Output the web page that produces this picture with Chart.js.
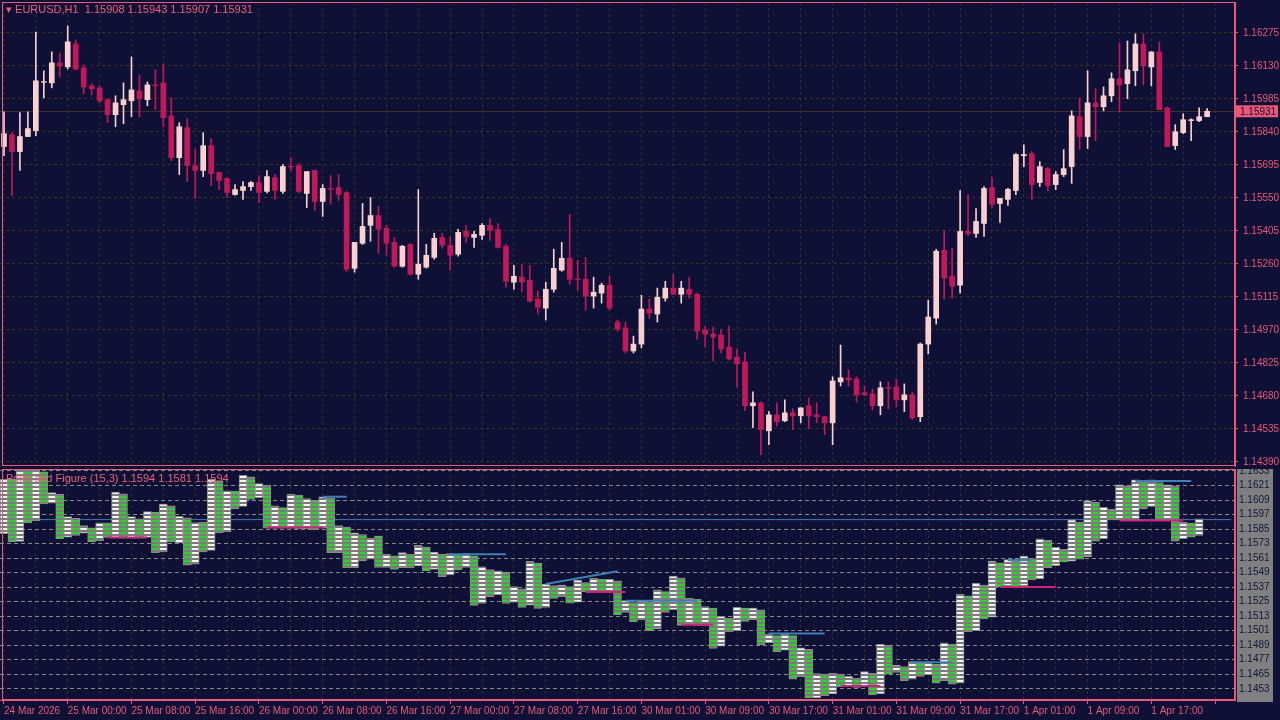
<!DOCTYPE html>
<html>
<head>
<meta charset="utf-8">
<script src="https://cdn.jsdelivr.net/npm/chart.js@4/dist/chart.umd.min.js"></script>
<style>
  html { overflow:hidden; }
  body { margin:0; background:#0e1035; width:1400px; height:720px; overflow:hidden; position:relative; font-family:"Liberation Sans", sans-serif; }
  canvas { position:absolute; left:0; }
  .hdr { position:absolute; color:#f0607a; font-size:11px; white-space:pre; z-index:5; }
</style>
</head>
<body>
<canvas id="top" width="1295" height="485"></canvas>
<canvas id="bot" width="1328" height="262"></canvas>
<div class="hdr" style="left:6px;top:3px;">&#9662; EURUSD,H1  1.15908 1.15943 1.15907 1.15931</div>
<div class="hdr" style="left:6px;top:472px;">Point and Figure (15,3) 1.1594 1.1581 1.1594</div>
<script>
// candle data EURUSD H1
var opens = [1.15776,1.15828,1.15754,1.15820,1.15846,1.16060,1.16056,1.16144,1.16126,1.16227,1.16122,1.16043,1.16034,1.15982,1.15916,1.15960,1.15977,1.16021,1.15982,1.16047,
1.16056,1.15911,1.15727,1.15859,1.15692,1.15671,1.15780,1.15662,1.15636,1.15565,1.15583,1.15600,1.15618,1.15579,1.15640,1.15579,1.15688,1.15692,1.15570,1.15671,
1.15535,1.15592,1.15596,1.15574,1.15241,1.15351,1.15430,1.15473,1.15417,1.15355,1.15250,1.15346,1.15215,1.15246,1.15289,1.15377,1.15342,1.15303,1.15403,1.15377,
1.15386,1.15430,1.15412,1.15338,1.15180,1.15202,1.15189,1.15106,1.15066,1.15149,1.15233,1.15285,1.15193,1.15193,1.15119,1.15132,1.15167,1.15005,1.14979,1.14878,
1.14908,1.15062,1.15040,1.15110,1.15154,1.15127,1.15149,1.15127,1.14970,1.14952,1.14948,1.14895,1.14851,1.14830,1.14637,1.14650,1.14527,1.14597,1.14571,1.14606,
1.14593,1.14637,1.14597,1.14589,1.14562,1.14742,1.14760,1.14755,1.14694,1.14689,1.14637,1.14716,1.14720,1.14663,1.14685,1.14589,1.14908,1.15022,1.15320,1.15206,
1.15167,1.15403,1.15394,1.15438,1.15596,1.15526,1.15544,1.15583,1.15736,1.15745,1.15618,1.15679,1.15609,1.15653,1.15688,1.15907,1.15820,1.15968,1.15951,1.15999,
1.16074,1.16052,1.16109,1.16227,1.16126,1.16192,1.15946,1.15780,1.15837,1.15890,1.15890,1.15907];
var highs = [1.15929,1.15837,1.15925,1.15929,1.16279,1.16109,1.16192,1.16187,1.16306,1.16244,1.16135,1.16052,1.16043,1.15985,1.15999,1.16056,1.16170,1.16091,1.16060,1.16113,
1.16139,1.15990,1.15881,1.15898,1.15763,1.15837,1.15811,1.15665,1.15639,1.15609,1.15622,1.15622,1.15649,1.15671,1.15653,1.15697,1.15727,1.15701,1.15666,1.15672,
1.15609,1.15649,1.15653,1.15579,1.15355,1.15526,1.15552,1.15513,1.15430,1.15377,1.15342,1.15350,1.15587,1.15346,1.15395,1.15395,1.15381,1.15412,1.15430,1.15403,
1.15438,1.15460,1.15438,1.15346,1.15254,1.15259,1.15254,1.15141,1.15180,1.15325,1.15355,1.15478,1.15276,1.15289,1.15202,1.15176,1.15206,1.15014,1.15005,1.14943,
1.15123,1.15106,1.15154,1.15184,1.15215,1.15184,1.15202,1.15132,1.14987,1.14983,1.14974,1.14987,1.14887,1.14873,1.14698,1.14654,1.14611,1.14650,1.14663,1.14624,
1.14628,1.14672,1.14650,1.14592,1.14764,1.14904,1.14795,1.14764,1.14724,1.14711,1.14742,1.14742,1.14755,1.14733,1.14698,1.14913,1.15101,1.15325,1.15408,1.15329,
1.15583,1.15565,1.15504,1.15600,1.15640,1.15548,1.15592,1.15745,1.15784,1.15754,1.15710,1.15684,1.15666,1.15763,1.15933,1.15990,1.16109,1.16030,1.16038,1.16100,
1.16231,1.16240,1.16271,1.16271,1.16192,1.16236,1.15950,1.15872,1.15920,1.15898,1.15946,1.15943];
var lows = [1.15736,1.15561,1.15671,1.15820,1.15824,1.15990,1.16034,1.16082,1.16117,1.16112,1.16008,1.16003,1.15968,1.15881,1.15863,1.15876,1.15907,1.15907,1.15955,1.15938,
1.15863,1.15714,1.15653,1.15622,1.15548,1.15644,1.15605,1.15587,1.15552,1.15562,1.15544,1.15583,1.15530,1.15572,1.15544,1.15570,1.15671,1.15572,1.15508,1.15495,
1.15469,1.15522,1.15539,1.15228,1.15224,1.15346,1.15360,1.15307,1.15298,1.15246,1.15246,1.15211,1.15193,1.15242,1.15281,1.15329,1.15233,1.15294,1.15355,1.15333,
1.15368,1.15364,1.15329,1.15158,1.15149,1.15136,1.15093,1.15040,1.15014,1.15136,1.15228,1.15171,1.15145,1.15057,1.15066,1.15088,1.15057,1.14965,1.14869,1.14869,
1.14891,1.15022,1.15005,1.15097,1.15127,1.15088,1.15110,1.14930,1.14895,1.14834,1.14869,1.14838,1.14720,1.14615,1.14541,1.14422,1.14466,1.14549,1.14567,1.14532,
1.14562,1.14536,1.14562,1.14510,1.14466,1.14724,1.14724,1.14654,1.14681,1.14619,1.14597,1.14624,1.14632,1.14611,1.14576,1.14567,1.14865,1.14996,1.15106,1.15110,
1.15132,1.15386,1.15377,1.15381,1.15508,1.15443,1.15517,1.15565,1.15688,1.15544,1.15600,1.15583,1.15587,1.15644,1.15614,1.15763,1.15767,1.15802,1.15933,1.15973,
1.15929,1.15986,1.16043,1.16047,1.16043,1.15938,1.15776,1.15763,1.15833,1.15802,1.15885,1.15907];
var closes = [1.15833,1.15754,1.15820,1.15855,1.16065,1.16062,1.16144,1.16130,1.16236,1.16117,1.16038,1.16030,1.15977,1.15916,1.15968,1.15982,1.16025,1.15986,1.16047,1.16043,
1.15903,1.15727,1.15863,1.15692,1.15671,1.15780,1.15657,1.15627,1.15574,1.15587,1.15600,1.15618,1.15574,1.15644,1.15583,1.15688,1.15686,1.15579,1.15666,1.15535,
1.15592,1.15588,1.15565,1.15237,1.15355,1.15425,1.15473,1.15412,1.15351,1.15250,1.15338,1.15215,1.15259,1.15298,1.15373,1.15342,1.15298,1.15399,1.15381,1.15390,
1.15430,1.15408,1.15333,1.15184,1.15206,1.15180,1.15097,1.15070,1.15149,1.15241,1.15285,1.15193,1.15190,1.15119,1.15136,1.15167,1.15066,1.14974,1.14878,1.14908,
1.15062,1.15044,1.15114,1.15154,1.15127,1.15154,1.15127,1.14965,1.14952,1.14939,1.14887,1.14843,1.14821,1.14637,1.14650,1.14532,1.14597,1.14567,1.14606,1.14593,
1.14628,1.14593,1.14589,1.14562,1.14746,1.14760,1.14751,1.14685,1.14685,1.14637,1.14716,1.14714,1.14663,1.14685,1.14584,1.14908,1.15027,1.15316,1.15198,1.15162,
1.15403,1.15394,1.15447,1.15592,1.15522,1.15548,1.15588,1.15741,1.15741,1.15609,1.15688,1.15605,1.15653,1.15679,1.15911,1.15820,1.15968,1.15951,1.15999,1.16074,
1.16047,1.16113,1.16227,1.16130,1.16192,1.15938,1.15776,1.15841,1.15894,1.15894,1.15907,1.15931];

// point & figure columns (top / bottom of each column)
var pfTop = [1.16262,1.16262,1.16338,1.16338,1.16338,1.16322,1.16152,1.16139,1.15953,1.15939,1.15879,1.15860,1.15901,1.15901,1.16155,1.16141,1.15953,1.15934,1.15994,1.15988,
1.16057,1.16043,1.15956,1.15942,1.15904,1.15907,1.16262,1.16248,1.16166,1.16163,1.16294,1.16281,1.16226,1.16213,1.16043,1.16027,1.16139,1.16131,1.16101,1.16087,
1.16117,1.16103,1.15879,1.15866,1.15819,1.15805,1.15775,1.15792,1.15642,1.15628,1.15655,1.15642,1.15715,1.15701,1.15660,1.15641,1.15647,1.15639,1.15647,1.15628,
1.15538,1.15516,1.15505,1.15494,1.15374,1.15357,1.15584,1.15568,1.15396,1.15382,1.15387,1.15374,1.15428,1.15407,1.15442,1.15434,1.15434,1.15423,1.15259,1.15243,
1.15259,1.15248,1.15347,1.15333,1.15461,1.15447,1.15278,1.15270,1.15210,1.15196,1.15128,1.15112,1.15205,1.15196,1.15196,1.15183,1.14983,1.14970,1.14983,1.14970,
1.14869,1.14855,1.14656,1.14651,1.14657,1.14651,1.14632,1.14618,1.14673,1.14657,1.14897,1.14889,1.14725,1.14714,1.14755,1.14741,1.14752,1.14733,1.14910,1.14897,
1.15312,1.15298,1.15402,1.15388,1.15585,1.15571,1.15598,1.15588,1.15626,1.15607,1.15770,1.15757,1.15702,1.15683,1.15926,1.15907,1.16084,1.16071,1.16030,1.16016,
1.16215,1.16207,1.16256,1.16240,1.16256,1.16235,1.16215,1.16207,1.15907,1.15899,1.15934];
var pfBot = [1.15811,1.15743,1.15748,1.15901,1.15920,1.16057,1.16065,1.15770,1.15784,1.15797,1.15816,1.15743,1.15754,1.15781,1.15781,1.15775,1.15775,1.15775,1.15781,1.15655,
1.15661,1.15743,1.15737,1.15551,1.15560,1.15661,1.15674,1.15819,1.15827,1.16016,1.16038,1.16095,1.16109,1.15857,1.15857,1.15857,1.15857,1.15852,1.15852,1.15844,
1.15857,1.15655,1.15655,1.15530,1.15530,1.15587,1.15601,1.15532,1.15532,1.15516,1.15530,1.15529,1.15546,1.15505,1.15516,1.15456,1.15472,1.15513,1.15532,1.15218,
1.15235,1.15292,1.15306,1.15235,1.15245,1.15202,1.15221,1.15194,1.15202,1.15276,1.15292,1.15237,1.15245,1.15333,1.15325,1.15325,1.15325,1.15142,1.15161,1.15084,
1.15101,1.15011,1.15024,1.15161,1.15183,1.15054,1.15068,1.15054,1.15054,1.14863,1.14882,1.15000,1.15011,1.15087,1.15101,1.14893,1.14910,1.14836,1.14850,1.14609,
1.14631,1.14454,1.14454,1.14474,1.14487,1.14547,1.14547,1.14542,1.14547,1.14482,1.14487,1.14651,1.14665,1.14597,1.14610,1.14632,1.14646,1.14577,1.14597,1.14569,
1.14577,1.15001,1.15011,1.15107,1.15121,1.15374,1.15383,1.15374,1.15383,1.15429,1.15437,1.15530,1.15547,1.15579,1.15585,1.15601,1.15620,1.15749,1.15770,1.15926,
1.15926,1.15921,1.15926,1.16016,1.16038,1.15921,1.15926,1.15749,1.15770,1.15784,1.15797];

// support / resistance segments in the P&F pane: [startIndex, endIndex, level]
var blueSegs = [[40,43,1.16117],[56,63,1.15642],[78,87,1.15257],[96,103,1.14986],[114,119,1.14749],[126,129,1.15593],[142,149,1.16248]];
var pinkSegs = [[13,18,1.15781],[33,40,1.15863],[73,78,1.15330],[85,89,1.15060],[105,110,1.14552],[125,132,1.15371],[140,148,1.15920]];
var riseSeg = [[68,1.15396],[77,1.15502]];
var pfMidLine = 1.15928;

var timeLabels = ["24 Mar 2026","25 Mar 00:00","25 Mar 08:00","25 Mar 16:00","26 Mar 00:00","26 Mar 08:00","26 Mar 16:00","27 Mar 00:00","27 Mar 08:00","27 Mar 16:00",
"30 Mar 01:00","30 Mar 09:00","30 Mar 17:00","31 Mar 01:00","31 Mar 09:00","31 Mar 17:00","1 Apr 01:00","1 Apr 09:00","1 Apr 17:00"];
var priceTicks = [1.16275,1.16130,1.15985,1.15840,1.15695,1.15550,1.15405,1.15260,1.15115,1.14970,1.14825,1.14680,1.14535,1.14390];
var pfTicks = [1.1633,1.1627,1.1621,1.1615,1.1609,1.1603,1.1597,1.1591,1.1585,1.1579,1.1573,1.1567,1.1561,1.1555,1.1549,1.1543,1.1537,1.1531,1.1525,1.1519,1.1513,1.1507,1.1501,1.1495,1.1489,1.1483,1.1477,1.1471,1.1465,1.1459,1.1453,1.1447];

var BG = '#0e1035', PINK = '#ec5878', BULL = '#f9d0d0', BEAR = '#c0185a';
var FONT = 'Liberation Sans';
var n = closes.length, SLOTS = 155;
var labels = [];
for (var i = 0; i < SLOTS; i++) labels.push(i % 8 == 0 ? timeLabels[i / 8] || '' : '');

var frame = {
  id: 'frame',
  afterDraw: function(c) {
    var a = c.chartArea, ctx = c.ctx;
    ctx.save(); ctx.strokeStyle = PINK; ctx.lineWidth = 1;
    ctx.strokeRect(2.5, Math.round(a.top) + 0.5, Math.round(a.right) - 3, Math.round(a.bottom - a.top) - 1);
    ctx.restore();
  }
};

// build a chart so that its plot area lands on x 0..right, y y0..y1 of the page
function makeChart(id, cfg, right, y0, y1) {
  var cv = document.getElementById(id), chart;
  for (var k = 0; k < 4; k++) {
    chart = new Chart(cv, cfg);
    var a = chart.chartArea;
    var dw = Math.round(right - a.right), dh = Math.round((y1 - y0) - (a.bottom - a.top));
    if (dw == 0 && dh == 0 || k == 3) break;
    chart.destroy();
    cv.width = cv.width + dw; cv.height = cv.height + dh;
    cv.style.width = cv.width + 'px'; cv.style.height = cv.height + 'px';
  }
  cv.style.top = (y0 - chart.chartArea.top) + 'px';
  return chart;
}

// ---- main candle pane ----
var lastLine = {
  id: 'lastLine',
  beforeDatasetsDraw: function(c) {
    var y = Math.round(c.scales.y.getPixelForValue(closes[n - 1])) + 0.5, ctx = c.ctx;
    ctx.save(); ctx.strokeStyle = '#3a3028'; ctx.beginPath(); ctx.moveTo(c.chartArea.left, y); ctx.lineTo(c.chartArea.right, y); ctx.stroke(); ctx.restore();
  },
  afterDraw: function(c) {
    var y = c.scales.y.getPixelForValue(closes[n - 1]), ctx = c.ctx;
    ctx.save(); ctx.fillStyle = PINK; ctx.fillRect(c.chartArea.right + 1, y - 6, 42, 12);
    ctx.fillStyle = BG; ctx.font = '10px "' + FONT + '"'; ctx.textBaseline = 'middle';
    ctx.fillText(closes[n - 1].toFixed(5), c.chartArea.right + 5, y + 0.5); ctx.restore();
  }
};

var topChart = makeChart('top', {
  type: 'bar',
  data: {
    labels: labels,
    datasets: [
      { data: highs.map(function(h, i) { return [lows[i], h]; }),
        backgroundColor: closes.map(function(c, i) { return c >= opens[i] ? BULL : BEAR; }),
        barThickness: 1, grouped: false, order: 2 },
      { data: opens.map(function(o, i) { return Math.abs(closes[i] - o) < 0.00003 ? [o - 0.000015, o + 0.000015] : [o, closes[i]]; }),
        backgroundColor: closes.map(function(c, i) { return c >= opens[i] ? BULL : BEAR; }),
        barThickness: 5, grouped: false, order: 1 }
    ]
  },
  options: {
    responsive: false, maintainAspectRatio: false, animation: false,
    layout: { padding: 0 },
    plugins: { legend: { display: false }, tooltip: { enabled: false } },
    scales: {
      x: { grid: { color: function(ctx) { return ctx.index % 4 == 0 ? '#302e2c' : 'rgba(0,0,0,0)'; }, offset: false, drawTicks: false },
           ticks: { display: false, autoSkip: false }, border: { display: false, dash: [3, 3] },
           afterFit: function(s) { s.height = 0; } },
      y: { position: 'right', min: 1.143724, max: 1.164112,
           afterBuildTicks: function(s) { s.ticks = priceTicks.map(function(v) { return { value: v }; }); },
           ticks: { color: PINK, font: { size: 10, family: FONT }, padding: 5, callback: function(v) { return v.toFixed(5); } },
           grid: { color: '#3b3418', drawTicks: true, tickLength: 3, tickColor: PINK },
           border: { color: PINK, dash: [3, 3] },
           afterFit: function(s) { s.width = 45; } }
    }
  },
  plugins: [frame, lastLine]
}, 1235, 2, 466);

// ---- point & figure pane ----
function stripes(fg) {
  var p = document.createElement('canvas'); p.width = 8; p.height = 4;
  var g = p.getContext('2d'); g.fillStyle = '#7a7a7a'; g.fillRect(0, 0, 8, 4);
  g.fillStyle = fg; g.fillRect(0, 1, 8, 2);
  return g.createPattern(p, 'repeat');
}
var patW = stripes('#f4f4f4'), patG = stripes('#28d428');

function seg(s, col) {
  var d = new Array(SLOTS).fill(null);
  for (var k = s[0]; k <= s[1]; k++) d[k] = s[2];
  return { type: 'line', data: d, borderColor: col, borderWidth: 2, pointRadius: 0, spanGaps: false, order: 0 };
}
var segSets = [];
blueSegs.forEach(function(s) { segSets.push(seg(s, '#3f7fb8')); });
pinkSegs.forEach(function(s) { segSets.push(seg(s, '#d0207a')); });
var rd = new Array(SLOTS).fill(null); rd[riseSeg[0][0]] = riseSeg[0][1]; rd[riseSeg[1][0]] = riseSeg[1][1];
segSets.push({ type: 'line', data: rd, borderColor: '#3f7fb8', borderWidth: 2, pointRadius: 0, spanGaps: true, order: 0 });
segSets.push({ type: 'line', data: new Array(SLOTS).fill(pfMidLine), borderColor: '#3f7fb8', borderWidth: 1, pointRadius: 0, order: 3 });

var pfAxisBg = {
  id: 'pfAxisBg',
  beforeDraw: function(c) {
    var a = c.chartArea, ctx = c.ctx;
    ctx.save(); ctx.fillStyle = '#808080'; ctx.fillRect(a.right + 2, a.top, 36, a.bottom - a.top + 2); ctx.restore();
  }
};

var botChart = makeChart('bot', {
  type: 'bar',
  data: {
    labels: labels,
    datasets: [{
      data: pfTop.map(function(t, i) { return [pfBot[i], t]; }),
      backgroundColor: pfTop.map(function(t, i) { return i % 2 == 0 ? patW : patG; }),
      borderColor: '#8a8a8a', borderWidth: 1, borderSkipped: false,
      barPercentage: 1, categoryPercentage: 1, order: 1
    }].concat(segSets)
  },
  options: {
    responsive: false, maintainAspectRatio: false, animation: false,
    layout: { padding: 0 },
    plugins: { legend: { display: false }, tooltip: { enabled: false } },
    scales: {
      x: { grid: { color: function(ctx) { return ctx.index % 4 == 0 ? '#302e2c' : 'rgba(0,0,0,0)'; }, offset: false, drawTicks: true, tickLength: 4,
                   tickColor: function(ctx) { return ctx.index % 8 == 0 ? PINK : 'rgba(0,0,0,0)'; } },
           border: { color: PINK, dash: [3, 3] },
           ticks: { autoSkip: false, maxRotation: 0, color: PINK, font: { size: 10, family: FONT }, align: 'start', padding: 1 },
           afterFit: function(s) { s.height = 19; } },
      y: { position: 'right', min: 1.144372, max: 1.163464,
           afterBuildTicks: function(s) { s.ticks = pfTicks.map(function(v) { return { value: v }; }); },
           ticks: { color: '#14143a', font: { size: 10, family: FONT }, padding: 4, callback: function(v) { return v.toFixed(4); } },
           grid: { color: '#8a8a8a', drawTicks: false },
           border: { color: PINK, dash: [4, 3] },
           afterFit: function(s) { s.width = 45; } }
    }
  },
  plugins: [pfAxisBg, frame]
}, 1235, 469, 700);
</script>
</body>
</html>
